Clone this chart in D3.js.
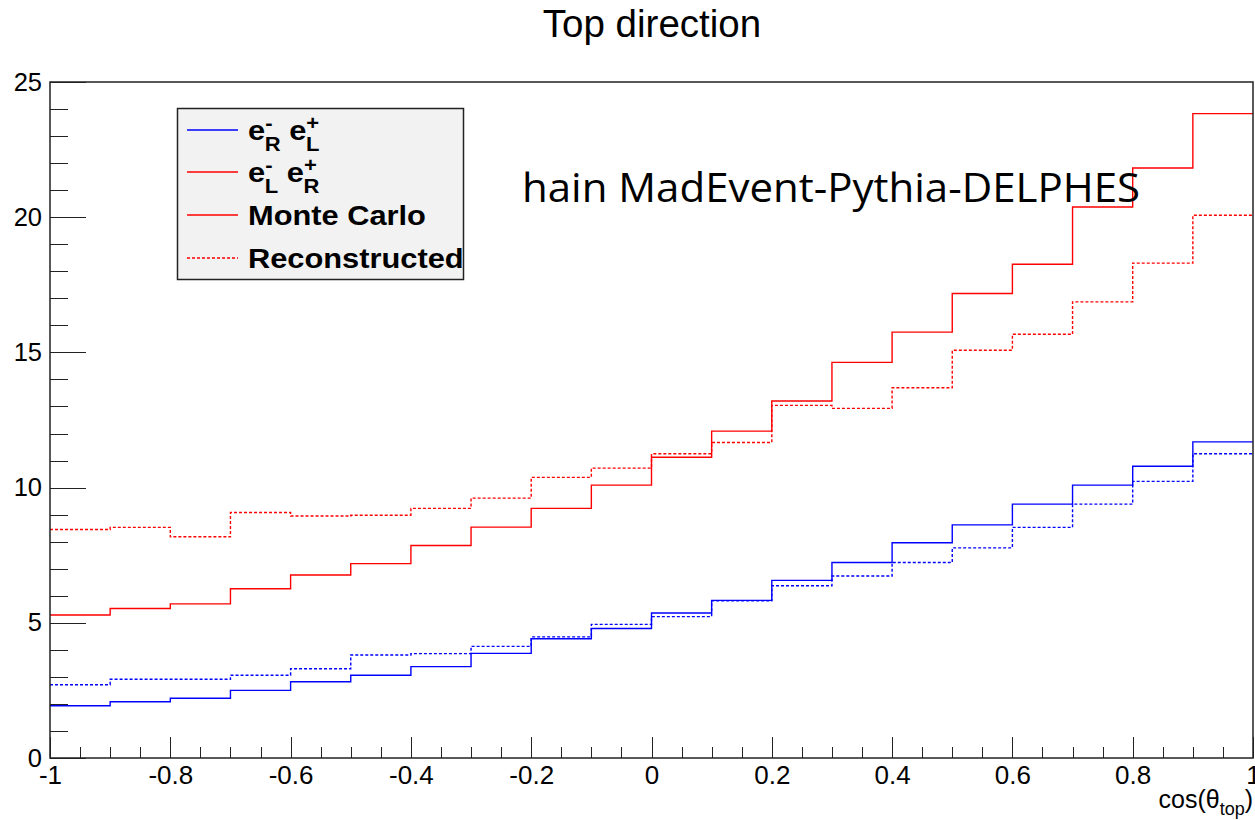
<!DOCTYPE html>
<html>
<head>
<meta charset="utf-8">
<script src="https://cdn.jsdelivr.net/npm/d3@7"></script>
<style>
  body { margin: 0; background: #fff; }
  svg { display: block; }
</style>
</head>
<body>
<div id="chart"></div>
<script>
// bin low edges of cos(theta_top), 20 bins of 0.1
var binLow = [-1, -0.9, -0.8, -0.7, -0.6, -0.5, -0.4, -0.3, -0.2, -0.1,
              0, 0.1, 0.2, 0.3, 0.4, 0.5, 0.6, 0.7, 0.8, 0.9];
var binHigh = 1;

// e-_L e+_R (red)
var redMC   = [5.29, 5.53, 5.70, 6.26, 6.77, 7.19, 7.86, 8.54, 9.23, 10.09,
               11.12, 12.09, 13.20, 14.63, 15.75, 17.18, 18.26, 20.38, 21.82, 23.83];
var redReco = [8.45, 8.53, 8.18, 9.08, 8.95, 8.98, 9.23, 9.61, 10.38, 10.72,
               11.25, 11.67, 13.04, 12.93, 13.69, 15.08, 15.67, 16.87, 18.30, 20.07];
// e-_R e+_L (blue)
var blueMC   = [1.93, 2.08, 2.21, 2.50, 2.82, 3.06, 3.38, 3.87, 4.41, 4.79,
                5.36, 5.83, 6.57, 7.23, 7.96, 8.62, 9.39, 10.09, 10.79, 11.69];
var blueReco = [2.71, 2.91, 2.91, 3.06, 3.30, 3.81, 3.86, 4.13, 4.48, 4.94,
                5.23, 5.81, 6.37, 6.73, 7.23, 7.77, 8.53, 9.39, 10.23, 11.25];

var xMajor = [-1, -0.8, -0.6, -0.4, -0.2, 0, 0.2, 0.4, 0.6, 0.8, 1];
var xMinor = [-0.95, -0.9, -0.85, -0.75, -0.7, -0.65, -0.55, -0.5, -0.45, -0.35, -0.3, -0.25,
              -0.15, -0.1, -0.05, 0.05, 0.1, 0.15, 0.25, 0.3, 0.35, 0.45, 0.5, 0.55,
              0.65, 0.7, 0.75, 0.85, 0.9, 0.95];
var yMajor = [0, 5, 10, 15, 20, 25];
var yMinor = [1, 2, 3, 4, 6, 7, 8, 9, 11, 12, 13, 14, 16, 17, 18, 19, 21, 22, 23, 24];

var W = 1255, H = 820;
var padL = 50, padR = 1253, padT = 82, padB = 758;

var svg = d3.select('#chart').append('svg')
  .attr('width', W)
  .attr('height', H)
  .style('font-family', '"Liberation Sans", Arial, sans-serif');

var x = d3.scaleLinear().domain([-1, 1]).range([padL, padR]);
var y = d3.scaleLinear().domain([0, 25]).range([padB, padT]);

// title
svg.append('text')
  .attr('x', 652).attr('y', 37)
  .attr('text-anchor', 'middle')
  .style('font-size', '38.5px')
  .text('Top direction');

// y axis ticks, drawn inward
svg.append('g')
  .attr('transform', 'translate(' + padL + ',0)')
  .call(d3.axisRight(y).tickValues(yMajor).tickSize(36).tickFormat(''))
  .call(g => g.select('.domain').remove());
svg.append('g')
  .attr('transform', 'translate(' + padL + ',0)')
  .call(d3.axisRight(y).tickValues(yMinor).tickSize(18).tickFormat(''))
  .call(g => g.select('.domain').remove());
svg.append('g')
  .attr('transform', 'translate(' + padL + ',0)')
  .call(d3.axisLeft(y).tickValues(yMajor).tickSize(0).tickPadding(8).tickFormat(d => String(d)))
  .call(g => g.select('.domain').remove())
  .call(g => g.selectAll('text').style('font-size', '25.5px').attr('fill', '#000')
    .style('font-family', '"Liberation Sans", Arial, sans-serif'));

// x axis ticks, drawn inward
svg.append('g')
  .attr('transform', 'translate(0,' + padB + ')')
  .call(d3.axisTop(x).tickValues(xMajor).tickSize(21).tickFormat(''))
  .call(g => g.select('.domain').remove());
svg.append('g')
  .attr('transform', 'translate(0,' + padB + ')')
  .call(d3.axisTop(x).tickValues(xMinor).tickSize(11).tickFormat(''))
  .call(g => g.select('.domain').remove());
svg.append('g')
  .attr('transform', 'translate(0,' + padB + ')')
  .call(d3.axisBottom(x).tickValues(xMajor).tickSize(0).tickPadding(8).tickFormat(d => String(d)))
  .call(g => g.select('.domain').remove())
  .call(g => g.selectAll('text').style('font-size', '26px').attr('fill', '#000')
    .style('font-family', '"Liberation Sans", Arial, sans-serif'));

svg.selectAll('.tick line').attr('stroke', '#222').attr('stroke-width', 1).attr('shape-rendering', 'crispEdges');

// x axis title
var xt = svg.append('text')
  .attr('x', 1253).attr('y', 808)
  .attr('text-anchor', 'end')
  .style('font-size', '25px');
xt.append('tspan').text('cos(\u03b8');
xt.append('tspan').attr('dy', 7).style('font-size', '18px').text('top');
xt.append('tspan').attr('dy', -7).text(')');

// histograms
function stepPoints(vals) {
  var pts = binLow.map((b, i) => [b, vals[i]]);
  pts.push([binHigh, vals[vals.length - 1]]);
  return pts;
}
var line = d3.line()
  .x(d => x(d[0]))
  .y(d => y(d[1]))
  .curve(d3.curveStepAfter);

var series = [
  { vals: blueReco, color: '#0000ff', dash: '3,2' },
  { vals: blueMC,   color: '#0000ff', dash: null },
  { vals: redReco,  color: '#ff0000', dash: '3,2' },
  { vals: redMC,    color: '#ff0000', dash: null }
];
svg.append('g').selectAll('path')
  .data(series)
  .join('path')
  .attr('d', d => line(stepPoints(d.vals)))
  .attr('fill', 'none')
  .attr('stroke', d => d.color)
  .attr('stroke-width', 1.4)
  .attr('stroke-dasharray', d => d.dash);

// frame
svg.append('rect')
  .attr('x', padL).attr('y', padT)
  .attr('width', padR - padL).attr('height', padB - padT)
  .attr('fill', 'none')
  .attr('stroke', '#222')
  .attr('stroke-width', 1.5);

// annotation
svg.append('text')
  .attr('x', 522).attr('y', 202)
  .attr('textLength', 618)
  .attr('lengthAdjust', 'spacingAndGlyphs')
  .style('font-family', '"Open Sans", "Noto Sans", sans-serif')
  .style('font-size', '41px')
  .text('hain MadEvent-Pythia-DELPHES');

// legend
var leg = svg.append('g');
leg.append('rect')
  .attr('x', 177.5).attr('y', 108.5)
  .attr('width', 286).attr('height', 171)
  .attr('fill', '#f2f2f2')
  .attr('stroke', '#222')
  .attr('stroke-width', 1.5);

var legendItems = [
  { y: 130, color: '#0000ff', dash: null, label: ['e', '-', 'R', ' e', '+', 'L'] },
  { y: 172, color: '#ff0000', dash: null, label: ['e', '-', 'L', ' e', '+', 'R'] },
  { y: 215, color: '#ff0000', dash: null, label: 'Monte Carlo' },
  { y: 258, color: '#ff0000', dash: '3,2', label: 'Reconstructed' }
];
legendItems.forEach(function(it) {
  leg.append('line')
    .attr('x1', 187).attr('x2', 238)
    .attr('y1', it.y).attr('y2', it.y)
    .attr('stroke', it.color)
    .attr('stroke-width', 1.4)
    .attr('stroke-dasharray', it.dash);
  // the original text is slightly stretched horizontally
  var t = leg.append('g')
    .attr('transform', 'translate(248,' + (it.y + 10) + ') scale(1.1,1)')
    .append('text')
    .style('font-size', '28px')
    .style('font-weight', 'bold');
  if (typeof it.label === 'string') {
    t.text(it.label);
  } else {
    var l = it.label;
    // e with stacked super/subscript
    t.append('tspan').text(l[0]);
    t.append('tspan').attr('dy', -10).style('font-size', '20px').text(l[1]);
    t.append('tspan').attr('dx', -7).attr('dy', 21).style('font-size', '20px').text(l[2]);
    t.append('tspan').attr('dy', -11).text(l[3]);
    t.append('tspan').attr('dy', -10).style('font-size', '20px').text(l[4]);
    t.append('tspan').attr('dx', -12).attr('dy', 21).style('font-size', '20px').text(l[5]);
  }
});
</script>
</body>
</html>
